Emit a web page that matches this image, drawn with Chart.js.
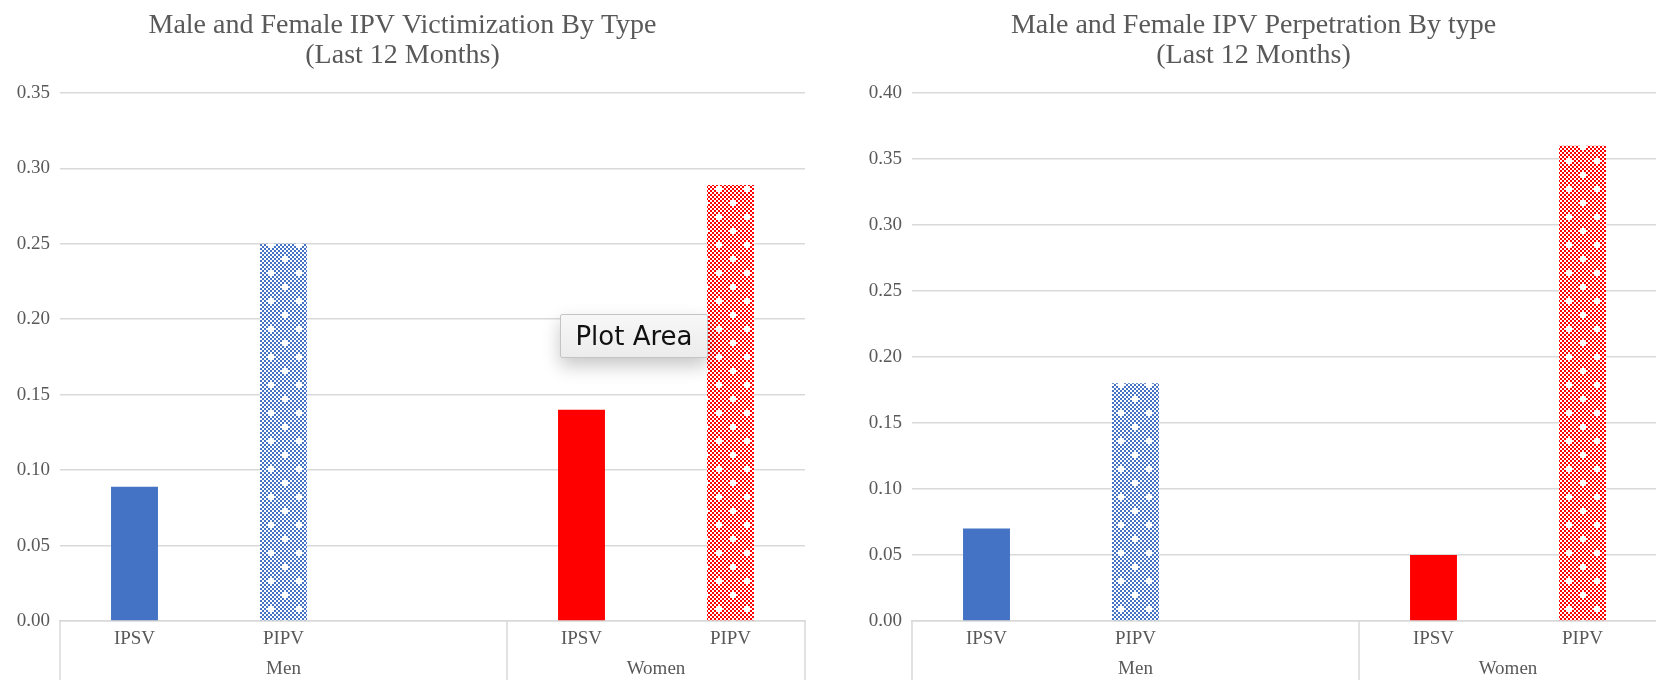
<!DOCTYPE html>
<html>
<head>
<meta charset="utf-8">
<script src="https://cdn.jsdelivr.net/npm/chart.js@4/dist/chart.umd.min.js"></script>
<style>
  html, body { margin: 0; padding: 0; background: #ffffff; overflow: hidden; }
  body { width: 1656px; height: 680px; position: relative; }
  .panel { position: absolute; top: 0; height: 680px; }
  #victimPanel { left: 0; width: 830px; }
  #perpPanel { left: 850px; width: 832px; }
  .hover-tip {
    position: absolute; left: 560px; top: 314px; width: 148px; height: 44px;
    box-sizing: border-box;
    background: linear-gradient(#f7f7f7, #ececec);
    border: 1px solid #c4c4c4;
    border-radius: 2px;
    box-shadow: 0 8px 18px rgba(0,0,0,0.22);
    font-family: "DejaVu Sans", sans-serif; font-size: 26px; color: #111;
    line-height: 42px; text-align: center;
  }
</style>
</head>
<body>
<div class="panel" id="victimPanel"><canvas id="victimChart" width="830" height="680"></canvas></div>
<div class="panel" id="perpPanel"><canvas id="perpChart" width="832" height="680"></canvas></div>
<div class="hover-tip">Plot Area</div>
<script>
// Category axis: inner labels (one per bar slot) and outer groups
const categories = ['IPSV', 'PIPV', '', 'IPSV', 'PIPV'];
const groups = ['Men', 'Women'];
const groupSizes = [3, 2];

// Share of respondents, last 12 months
const victimization = [0.089, 0.25, null, 0.14, 0.289];
const perpetration = [0.07, 0.18, null, 0.05, 0.36];

// Y-axis ranges
const victimTicks = ['0.00', '0.05', '0.10', '0.15', '0.20', '0.25', '0.30', '0.35'];
const perpTicks = ['0.00', '0.05', '0.10', '0.15', '0.20', '0.25', '0.30', '0.35', '0.40'];

const BLUE = '#4472C4';
const RED = '#FF0000';
const GRID = '#d9d9d9';
const TEXT = '#595959';
const SERIF = '"Liberation Serif", "Times New Roman", serif';

// Dotted checker fill used for the PIPV bars
function checkerPattern(color) {
  const c = document.createElement('canvas');
  const cells = 14, cs = 2;
  c.width = c.height = cells * cs;
  const g = c.getContext('2d');
  g.fillStyle = '#ffffff';
  g.fillRect(0, 0, c.width, c.height);
  const holes = new Set();
  [[2, 3], [9, 10]].forEach(([hx, hy]) => {
    [[1,0],[-1,0],[0,1],[0,-1]].forEach(([dx, dy]) => {
      holes.add(((hx + dx + cells) % cells) + ',' + ((hy + dy + cells) % cells));
    });
  });
  g.fillStyle = color;
  for (let y = 0; y < cells; y++) {
    for (let x = 0; x < cells; x++) {
      if ((x + y) % 2 === 0 && !holes.has(x + ',' + y)) {
        g.fillRect(x * cs, y * cs, cs, cs);
      }
    }
  }
  return g.createPattern(c, 'repeat');
}

const barFills = [BLUE, checkerPattern(BLUE), 'rgba(0,0,0,0)', RED, checkerPattern(RED)];

// Draws the outer category level (Men / Women) with its divider lines
const groupAxis = {
  id: 'groupAxis',
  afterDraw(chart) {
    const x = chart.scales.x;
    const ctx = chart.ctx;
    const half = (x.getPixelForValue(1) - x.getPixelForValue(0)) / 2;
    const top = chart.chartArea.bottom;
    const bottom = chart.height;
    ctx.save();
    ctx.strokeStyle = GRID;
    ctx.lineWidth = 1.5;
    let start = 0;
    const edges = [x.getPixelForValue(0) - half];
    groups.forEach((name, gi) => {
      const end = start + groupSizes[gi] - 1;
      const left = x.getPixelForValue(start) - half;
      const right = x.getPixelForValue(end) + half;
      edges.push(right);
      ctx.fillStyle = TEXT;
      ctx.font = '19px ' + SERIF;
      ctx.textAlign = 'center';
      ctx.textBaseline = 'middle';
      ctx.fillText(name, (left + right) / 2, top + 48);
      start = end + 1;
    });
    edges.forEach(px => {
      ctx.beginPath();
      ctx.moveTo(px, top);
      ctx.lineTo(px, bottom);
      ctx.stroke();
    });
    ctx.restore();
  }
};

function buildChart(id, titleText, values, tickLabels, yWidth) {
  const maxVal = parseFloat(tickLabels[tickLabels.length - 1]);
  return new Chart(document.getElementById(id), {
    type: 'bar',
    data: {
      labels: categories,
      datasets: [{
        data: values,
        backgroundColor: barFills,
        borderWidth: 0,
        categoryPercentage: 1,
        barPercentage: 0.315
      }]
    },
    options: {
      responsive: false,
      animation: false,
      events: [],
      layout: { padding: { left: 0, right: 25, top: 0, bottom: 0 } },
      plugins: {
        legend: { display: false },
        tooltip: { enabled: false },
        title: {
          display: true,
          text: titleText,
          color: TEXT,
          font: { family: SERIF, size: 28, weight: 'normal', lineHeight: 1.07 },
          padding: { top: 11, bottom: 22 }
        }
      },
      scales: {
        x: {
          grid: { display: false, drawTicks: false },
          border: { display: true, color: GRID, width: 1.5 },
          ticks: { color: TEXT, font: { family: SERIF, size: 19 }, padding: 7, maxRotation: 0, autoSkip: false },
          afterFit(scale) { scale.height = 59; }
        },
        y: {
          min: 0,
          max: maxVal,
          border: { display: false },
          grid: { color: GRID, lineWidth: 1.5, drawTicks: false },
          ticks: {
            stepSize: 0.05,
            color: TEXT,
            font: { family: SERIF, size: 19 },
            padding: 10,
            callback: (v) => {
              const s = Number(v).toFixed(2);
              return tickLabels.includes(s) ? s : '';
            }
          },
          afterFit(scale) { scale.width = yWidth; }
        }
      }
    },
    plugins: [groupAxis]
  });
}

buildChart('victimChart', ['Male and Female IPV Victimization By Type', '(Last 12 Months)'], victimization, victimTicks, 60);
buildChart('perpChart', ['Male and Female IPV Perpetration By type', '(Last 12 Months)'], perpetration, perpTicks, 62);
</script>
</body>
</html>
